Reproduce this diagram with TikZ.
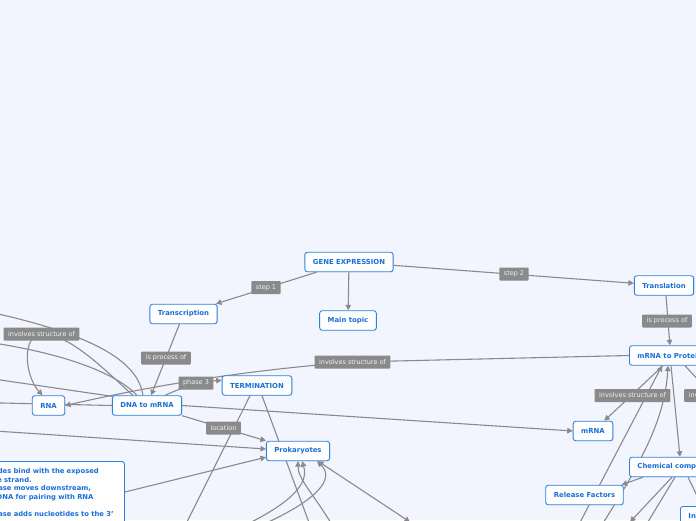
\documentclass[tikz,border=0pt]{standalone}
\usepackage{fontspec}
\setmainfont{DejaVu Sans}
\usetikzlibrary{arrows.meta,calc,shadows}
\pgfdeclarelayer{bgl}
\pgfdeclarelayer{edges}
\pgfsetlayers{bgl,edges,main}
\definecolor{bgc}{RGB}{242,245,253}
\definecolor{nodeb}{RGB}{44,130,224}
\definecolor{nodet}{RGB}{27,110,214}
\definecolor{labg}{RGB}{138,138,140}
\definecolor{labt}{RGB}{242,242,242}
\definecolor{linec}{RGB}{138,138,142}
\begin{document}
\begin{tikzpicture}[x=1pt,y=-1pt,
  box/.style={draw=nodeb, fill=white, rounded corners=2.5pt, line width=0.9pt,
    text=nodet, font=\fontsize{6.9}{8}\selectfont\bfseries, inner xsep=8pt,
    inner ysep=0pt, minimum height=19.5pt,
    drop shadow={shadow xshift=0.6pt, shadow yshift=-0.6pt, opacity=0.18}},
  lab/.style={fill=labg, text=labt, font=\fontsize{6.5}{8}\selectfont,
    inner xsep=4.5pt, inner ysep=0pt, minimum height=13pt, rounded corners=0.8pt},
  con/.style={draw=linec, line width=1.1pt},
  arr/.style={con, -{Triangle[length=5.5pt,width=5.5pt]}},
  arrb/.style={con, {Triangle[length=5.5pt,width=5.5pt]}-{Triangle[length=5.5pt,width=5.5pt]}},
]
\useasboundingbox (0,0) rectangle (696,520);
\begin{pgfonlayer}{bgl}
\fill[bgc] (0,0) rectangle (696,520);
\end{pgfonlayer}

% main nodes
\node[box] (ge) at (349,262) {GENE EXPRESSION};
\node[box] (mt) at (348,320.5) {Main topic};
\node[box] (tr) at (183.5,314) {Transcription};
\node[box] (tl) at (664,285.5) {Translation};
\node[box, anchor=west] (mp) at (629,355.5) {mRNA to Protein};
\node[box] (rna) at (48.5,405.5) {RNA};
\node[box] (dna) at (147,405.5) {DNA to mRNA};
\node[box] (term) at (257,385.5) {TERMINATION};
\node[box] (prok) at (298,451) {Prokaryotes};
\node[box] (mrna) at (593,431) {mRNA};
\node[box, anchor=west] (chem) at (629,467) {Chemical components};
\node[box] (rf) at (584.5,495) {Release Factors};
\node[box, anchor=north west] (init) at (680,506) {Initiation Factors};
\node[box, anchor=north west, align=left, text width=170pt, inner xsep=6pt, inner ysep=7pt,
      font=\fontsize{6.8}{8.6}\selectfont\bfseries] (txt) at (-58,461)
  {RNA nucleotides bind with the exposed\\
   DNA template strand.\\
   RNA polymerase moves downstream,\\
   opening the DNA for pairing with RNA\\
   nucleotides.\\
   RNA polymerase adds nucleotides to the 3’};

% labels
\node[lab] (l1) at (41.5,334) {involves structure of};
\node[lab] (l2) at (166,358) {is process of};
\node[lab] (l3) at (352.5,362) {involves structure of};
\node[lab] (l4) at (196,383) {phase 3};
\node[lab] (l5) at (223.5,428) {location};
\node[lab] (l6) at (266,287.5) {step 1};
\node[lab] (l7) at (514,274) {step 2};
\node[lab] (l8) at (667,321) {is process of};
\node[lab] (l9) at (632.5,395.5) {involves structure of};
\node[lab, anchor=west] (l10) at (684,395.5) {involves structure of};

% free ends beyond the frame
\coordinate (fa) at (-20,310);
\coordinate (fb) at (-20,341);
\coordinate (fd) at (-20,377);
\coordinate (fe) at (-20,402.5);
\coordinate (ff) at (-20,430);
\coordinate (ft1) at (178,540);
\coordinate (ft2) at (315.5,540);
\coordinate (fpa) at (235,530);
\coordinate (fpb) at (255,528);
\coordinate (fpc) at (335,530);
\coordinate (fpd) at (410,522);
\coordinate (fl1) at (575,532);
\coordinate (fl2) at (598,531);
\coordinate (fm1) at (630,522);
\coordinate (fm2) at (640,535);
\coordinate (finv) at (745,430);

\begin{pgfonlayer}{edges}
\draw[arr] (ge) -- (tr);
\draw[arr] (ge) -- (mt);
\draw[arr] (ge) -- (tl);
\draw[arr] (tr) -- (dna);
\draw[arr] ([xshift=2pt]tl.south) -- (mp.north);
\draw[arr] (mp.west) -- (l3.center) .. controls (250,370) and (160,384) .. (rna.east);
\draw[arr] ($(dna.north east)+(-17,0)$) .. controls (185,386) and (205,381) .. ($(term.west)+(0,-5)$);
\draw[arr] (dna.south east) -- (prok.north west);
\draw[arr] (dna.east) -- (mrna.west);
\draw[arr] (ff) -- ($(prok.west)+(0,-2)$);
\draw[arr] ($(txt.north east)+(0,31)$) -- ($(prok.south west)+(0,-4)$);
\draw[arr] ($(term.south)+(-7,0)$) -- (ft1);
\draw[arr] ($(term.south)+(5,0)$) -- (ft2);
\draw[arr] (fpa) .. controls (300,500) and (308,480) .. ($(prok.south)+(4,0)$);
\draw[arr] (fpb) .. controls (320,500) and (335,478) .. ($(prok.south)+(19,0)$);
\draw[arr] (fpc) .. controls (315,495) and (298,480) .. (prok.south);
\draw[arrb] ($(prok.south east)+(-12,0)$) -- (fpd);
% right side
\draw[arr] ($(mp.south west)+(34,0)$) -- ($(mrna.north east)+(-9,0)$);
\draw[arr] ($(mp.south west)+(56,0)$) -- (finv);
\draw[arr] (fl1) -- ($(mp.south west)+(33,0)$);
\draw[arr] (fl2) .. controls (640,465) and (665,420) .. ($(mp.south west)+(39,0)$);
\draw[arr] ($(mp.south west)+(42,0)$) -- ($(chem.north west)+(51,0)$);
\draw[arr] ($(chem.south west)+(14,0)$) -- ($(rf.north east)+(-2,0)$);
\draw[arr] ($(chem.south west)+(43,0)$) -- (fm1);
\draw[con] ($(chem.south west)+(46,0)$) -- (fm2);
\draw[arr] ($(chem.south west)+(59,0)$) -- ($(init.north west)+(22,0)$);
% left side
\draw[arr] ($(dna.north west)+(21,0)$) .. controls (110,375) and (70,333) .. (l1.center)
      .. controls (22,335) and (24,375) .. ($(rna.north)+(-6,0)$);
\draw[con] (fa) .. controls (90,333) and (138,360) .. ($(dna.north west)+(31,0)$);
\draw[con] (fb) .. controls (60,352) and (115,372) .. ($(dna.north west)+(25,0)$);
\draw[con] (fd) -- ($(dna.north west)+(0,1)$);
\draw[con] (fe) -- (dna.west);
\end{pgfonlayer}
\end{tikzpicture}
\end{document}
